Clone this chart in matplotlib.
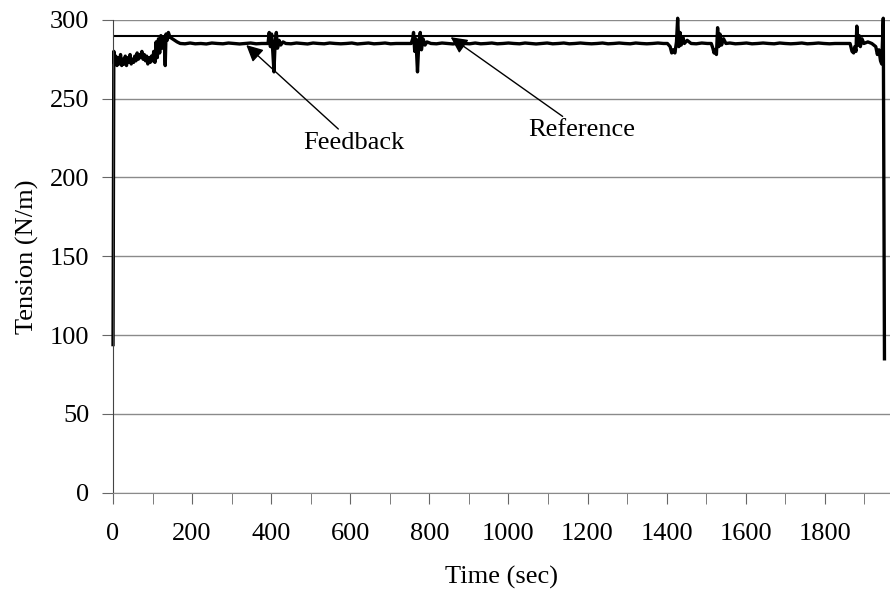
import matplotlib.pyplot as plt
from matplotlib.ticker import MultipleLocator

# reference tension (N/m)
ref_t = [0, 1947]
ref_v = [290, 290]

fb_start = [(0, 94), (2, 280), (4, 272), (7, 277), (10, 271), (13, 276), (16, 272),
            (19, 278), (22, 271), (25, 275), (28, 272), (31, 277), (34, 271), (37, 276),
            (40, 273), (43, 278), (46, 272), (49, 275), (52, 273), (55, 277), (58, 274),
            (61, 279), (64, 275), (67, 278), (70, 276), (73, 280), (76, 275), (79, 278),
            (82, 274), (85, 277), (88, 272), (91, 276), (94, 273), (97, 277), (100, 274),
            (103, 280), (106, 273), (109, 286), (112, 276), (115, 288), (118, 279),
            (121, 290), (124, 282), (127, 289), (130, 283), (132, 271), (134, 291),
            (137, 287), (140, 292), (144, 289), (150, 288), (156, 287), (162, 286),
            (170, 285), (182, 284.8), (195, 285.3), (208, 284.8), (222, 285),
            (236, 284.7), (250, 285.3), (264, 285), (278, 284.8), (292, 285.3),
            (306, 285), (320, 284.7), (334, 285), (348, 285.3), (362, 284.8), (376, 285)]
fb_ev1 = [(388, 285), (392, 285), (395, 292), (398, 283), (401, 291), (404, 280),
          (407, 267), (410, 286), (413, 292), (416, 282), (420, 287), (424, 284),
          (430, 286), (437, 285)]
fb_mid1 = [(450, 284.8), (464, 285.3), (478, 285), (492, 284.7), (506, 285.3),
           (520, 285), (534, 284.8), (548, 285.3), (562, 285), (576, 284.8),
           (590, 285), (604, 285.3), (618, 284.7), (632, 285), (646, 285.3),
           (660, 284.8), (674, 285), (688, 285.3), (702, 284.8), (716, 285),
           (730, 285), (744, 285)]
fb_ev2 = [(754, 285), (758, 288), (760, 292), (763, 280), (766, 288), (770, 267),
          (773, 284), (777, 292), (780, 281), (784, 288), (789, 284), (794, 286),
          (804, 285)]
fb_mid2 = [(818, 284.8), (832, 285.3), (846, 285), (860, 284.7), (874, 285.3),
           (888, 285), (902, 284.8), (916, 285.3), (930, 284.8), (944, 285),
           (958, 285.3), (972, 284.8), (986, 285), (1000, 285.3), (1014, 285),
           (1028, 284.8), (1042, 285.3), (1056, 285), (1070, 284.7), (1084, 285),
           (1098, 285.3), (1112, 284.8), (1126, 285), (1140, 285.3), (1154, 284.8),
           (1168, 285), (1182, 285.3), (1196, 285), (1210, 284.8), (1224, 285),
           (1238, 285.3), (1252, 284.8), (1266, 285), (1280, 285.3), (1294, 285),
           (1308, 284.8), (1322, 285.3), (1336, 285), (1350, 284.8), (1364, 285),
           (1378, 285.3), (1392, 285)]
fb_ev3 = [(1402, 285), (1409, 283), (1413, 279), (1417, 281), (1421, 279),
          (1425, 286), (1428, 301), (1431, 283), (1434, 292), (1437, 284),
          (1441, 289), (1445, 285), (1452, 287), (1462, 285), (1475, 284.8),
          (1489, 285.3), (1503, 285)]
fb_ev4 = [(1513, 285), (1517, 282), (1520, 279), (1523, 281), (1526, 278),
          (1529, 295), (1532, 283), (1535, 291), (1539, 284), (1544, 288),
          (1550, 285)]
fb_mid3 = [(1560, 285.3), (1574, 284.8), (1588, 285), (1602, 285.3), (1616, 284.8),
           (1630, 285), (1644, 285.3), (1658, 285), (1672, 284.8), (1686, 285.3),
           (1700, 285), (1714, 284.8), (1728, 285), (1742, 285.3), (1756, 284.8),
           (1770, 285), (1784, 285.3), (1798, 285), (1812, 284.8), (1826, 285),
           (1840, 285), (1854, 285)]
fb_end = [(1864, 285), (1869, 280), (1873, 279), (1876, 283), (1879, 280),
          (1881, 296), (1884, 284), (1887, 290), (1890, 283), (1894, 288),
          (1899, 285), (1909, 286), (1919, 285), (1924, 284), (1929, 283),
          (1933, 278), (1937, 281), (1941, 274), (1944, 272), (1948, 301),
          (1951, 85)]

fb_points = fb_start + fb_ev1 + fb_mid1 + fb_ev2 + fb_mid2 + fb_ev3 + fb_ev4 + fb_mid3 + fb_end
fb_t = [p[0] for p in fb_points]
fb_v = [p[1] for p in fb_points]

y_ticks = [0, 50, 100, 150, 200, 250, 300]

plt.rcParams['font.family'] = ['Liberation Serif', 'DejaVu Serif']
plt.rcParams['font.size'] = 19

fig = plt.figure(figsize=(8.9, 6.01), dpi=100)
ax = fig.add_axes([0.127, 0.18, 0.873, 0.787])

ax.plot(ref_t, ref_v, color='black', lw=1.5)
ax.plot(fb_t, fb_v, color='black', lw=2.4, clip_on=False)

ax.set_xlim(0, 1965)
ax.set_ylim(0, 300)
ax.set_yticks(y_ticks)
ax.xaxis.set_major_locator(MultipleLocator(200))
ax.xaxis.set_minor_locator(MultipleLocator(100))
ax.grid(axis='y', color='#8a8a8a', lw=1)
ax.set_axisbelow(True)

for side in ['top', 'right']:
    ax.spines[side].set_visible(False)
ax.spines['left'].set_color('#444444')
ax.spines['bottom'].set_color('#8a8a8a')
ax.tick_params(axis='y', direction='out', length=8, color='#666666', pad=9)
ax.tick_params(axis='x', which='both', direction='out', length=8, color='#666666', pad=14)

ax.set_xlabel('Time (sec)', labelpad=15)
ax.set_ylabel('Tension (N/m)')
ax.yaxis.set_label_coords(-0.095, 0.5)

ax.annotate('Feedback', xy=(337, 284), xytext=(480, 222),
            va='center', ha='left',
            arrowprops=dict(arrowstyle='-|>', color='black', lw=1, mutation_scale=25,
                            shrinkA=0, shrinkB=0))
ax.annotate('Reference', xy=(854, 289), xytext=(1051, 230),
            va='center', ha='left',
            arrowprops=dict(arrowstyle='-|>', color='black', lw=1, mutation_scale=25,
                            shrinkA=0, shrinkB=0))

fig.savefig('out.png', dpi=100)
